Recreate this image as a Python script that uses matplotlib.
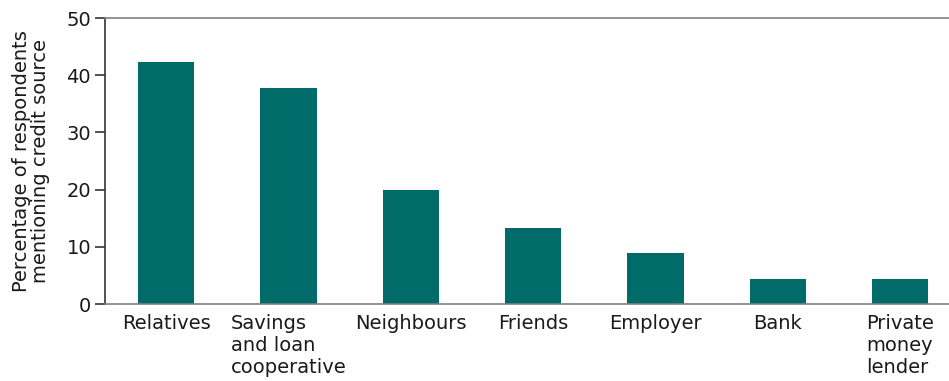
import matplotlib
matplotlib.use("Agg")
import matplotlib.pyplot as plt

sources = ["Relatives", "Savings\nand loan\ncooperative", "Neighbours", "Friends",
           "Employer", "Bank", "Private\nmoney\nlender"]
percent = [42.3, 37.8, 20.0, 13.3, 8.9, 4.4, 4.4]

bar_color = "#006b68"
text_color = "#1a1a1a"

fig = plt.figure(figsize=(9.49, 3.81), dpi=100)
ax = fig.add_axes([105 / 949, (381 - 304) / 381, (949 - 105) / 949, (304 - 18) / 381])

x = list(range(len(sources)))
ax.bar(x, percent, width=0.46, color=bar_color, zorder=2)

ax.set_xlim(-0.5, 6.4)
ax.set_ylim(0, 50)
ax.set_yticks([0, 10, 20, 30, 40, 50])
ax.set_xticks(x)
ax.set_xticklabels(sources, multialignment="left", linespacing=1.22)

ax.spines["right"].set_visible(False)
ax.spines["top"].set_color("#7f7f7f")
ax.spines["bottom"].set_color("#7f7f7f")
ax.spines["left"].set_color("#333333")
for s in ["top", "bottom", "left"]:
    ax.spines[s].set_linewidth(1.2)

ax.tick_params(axis="y", length=7, width=1.2, color="#333333", labelsize=14,
               labelcolor=text_color, pad=3)
ax.tick_params(axis="x", length=0, labelsize=14, labelcolor=text_color, pad=7)

ax.set_ylabel("Percentage of respondents\nmentioning credit source", fontsize=14,
              color=text_color, linespacing=0.98, labelpad=12)

fig.savefig("out.png", dpi=100)
